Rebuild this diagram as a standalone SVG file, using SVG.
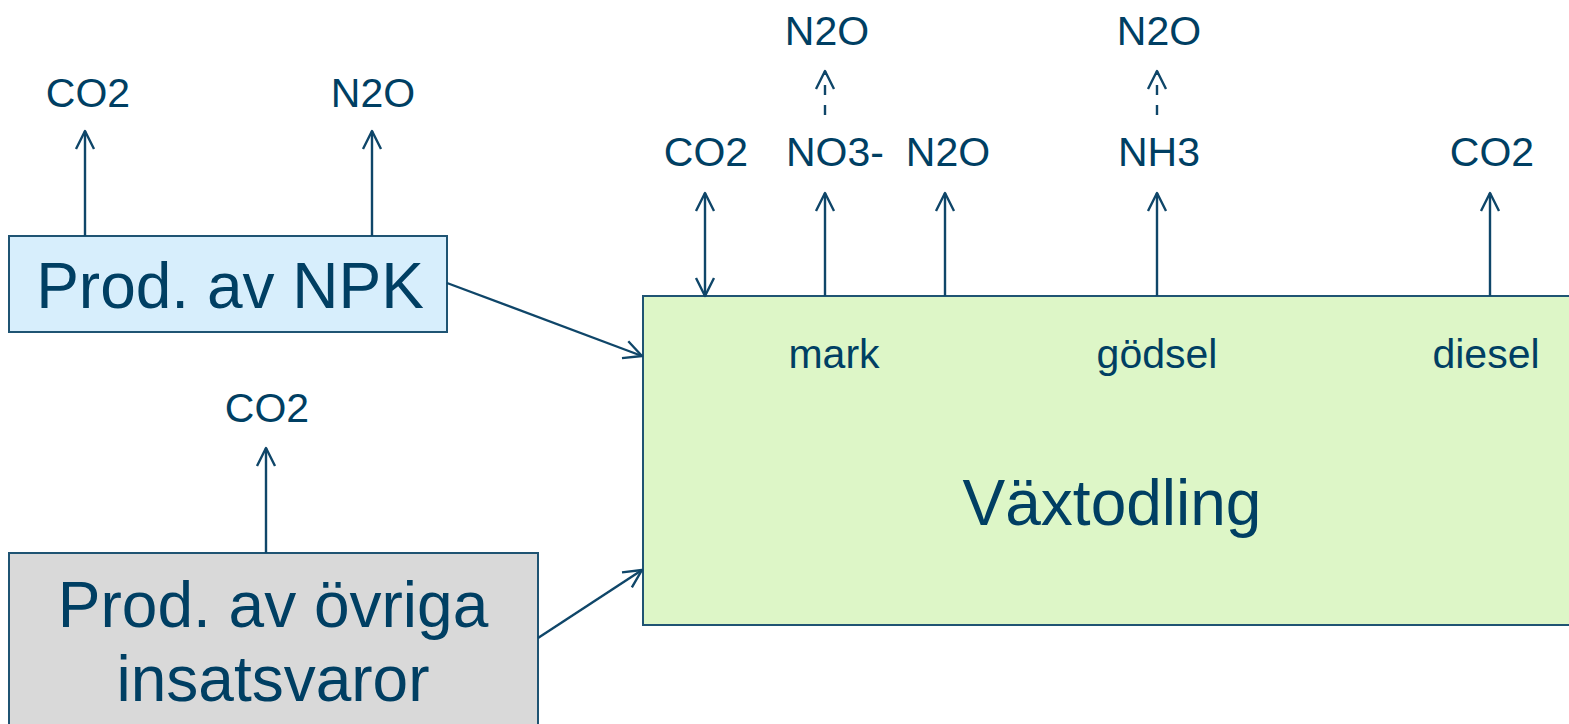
<svg xmlns="http://www.w3.org/2000/svg" width="1569" height="724" viewBox="0 0 1569 724">
<style>
.box{stroke:#1f5473;stroke-width:2}
.big{font-family:"Liberation Sans",Arial,sans-serif;font-size:64px;fill:#003f63;text-anchor:middle}
.lbl{font-family:"Liberation Sans",Arial,sans-serif;font-size:41px;fill:#003f63;text-anchor:middle}
.con{stroke:#0f4669;stroke-width:2.4;fill:none}
.dash{stroke-dasharray:10 10}
</style>
<defs>
<marker id="ah" viewBox="-20 -11 22 22" refX="0" refY="0" markerWidth="22" markerHeight="22" markerUnits="userSpaceOnUse" orient="auto-start-reverse">
<path d="M-18,-9 L0,0 L-18,9" fill="none" stroke="#0f4669" stroke-width="2.4" stroke-linejoin="round"/>
</marker>
</defs>
<g id="npk">
<rect class="box" x="9" y="236" width="438" height="96" fill="#d7eefc"/>
<text class="big" x="230" y="308">Prod. av NPK</text>
</g>
<g id="ovriga">
<rect class="box" x="9" y="553" width="529" height="180" fill="#d9d9d9"/>
<text class="big" x="273" y="627">Prod. av övriga</text>
<text class="big" x="273" y="701">insatsvaror</text>
</g>
<g id="vaxtodling">
<rect class="box" x="643" y="296" width="940" height="329" fill="#ddf6c7"/>
<text class="big" x="1112" y="525">Växtodling</text>
<text class="lbl" x="834" y="368">mark</text>
<text class="lbl" x="1157" y="368">gödsel</text>
<text class="lbl" x="1486" y="368">diesel</text>
</g>
<g id="labels">
<text class="lbl" x="88" y="107">CO2</text>
<text class="lbl" x="373" y="107">N2O</text>
<text class="lbl" x="267" y="422">CO2</text>
<text class="lbl" x="706" y="166">CO2</text>
<text class="lbl" x="835" y="166">NO3-</text>
<text class="lbl" x="948" y="166">N2O</text>
<text class="lbl" x="1159" y="166">NH3</text>
<text class="lbl" x="1492" y="166">CO2</text>
<text class="lbl" x="827" y="45">N2O</text>
<text class="lbl" x="1159" y="45">N2O</text>
</g>
<g id="connectors">
<line class="con" x1="85" y1="236" x2="85" y2="131" marker-end="url(#ah)"/>
<line class="con" x1="372" y1="236" x2="372" y2="131" marker-end="url(#ah)"/>
<line class="con" x1="266" y1="553" x2="266" y2="448" marker-end="url(#ah)"/>
<line class="con" x1="447" y1="283" x2="642" y2="356" marker-end="url(#ah)"/>
<line class="con" x1="538" y1="638" x2="642" y2="570" marker-end="url(#ah)"/>
<line class="con" x1="705" y1="296" x2="705" y2="193" marker-start="url(#ah)" marker-end="url(#ah)"/>
<line class="con" x1="825" y1="296" x2="825" y2="193" marker-end="url(#ah)"/>
<line class="con" x1="945" y1="296" x2="945" y2="193" marker-end="url(#ah)"/>
<line class="con" x1="1157" y1="296" x2="1157" y2="193" marker-end="url(#ah)"/>
<line class="con" x1="1490" y1="296" x2="1490" y2="193" marker-end="url(#ah)"/>
<line class="con dash" x1="825" y1="115" x2="825" y2="71" marker-end="url(#ah)"/>
<line class="con dash" x1="1157" y1="115" x2="1157" y2="71" marker-end="url(#ah)"/>
</g>
</svg>
